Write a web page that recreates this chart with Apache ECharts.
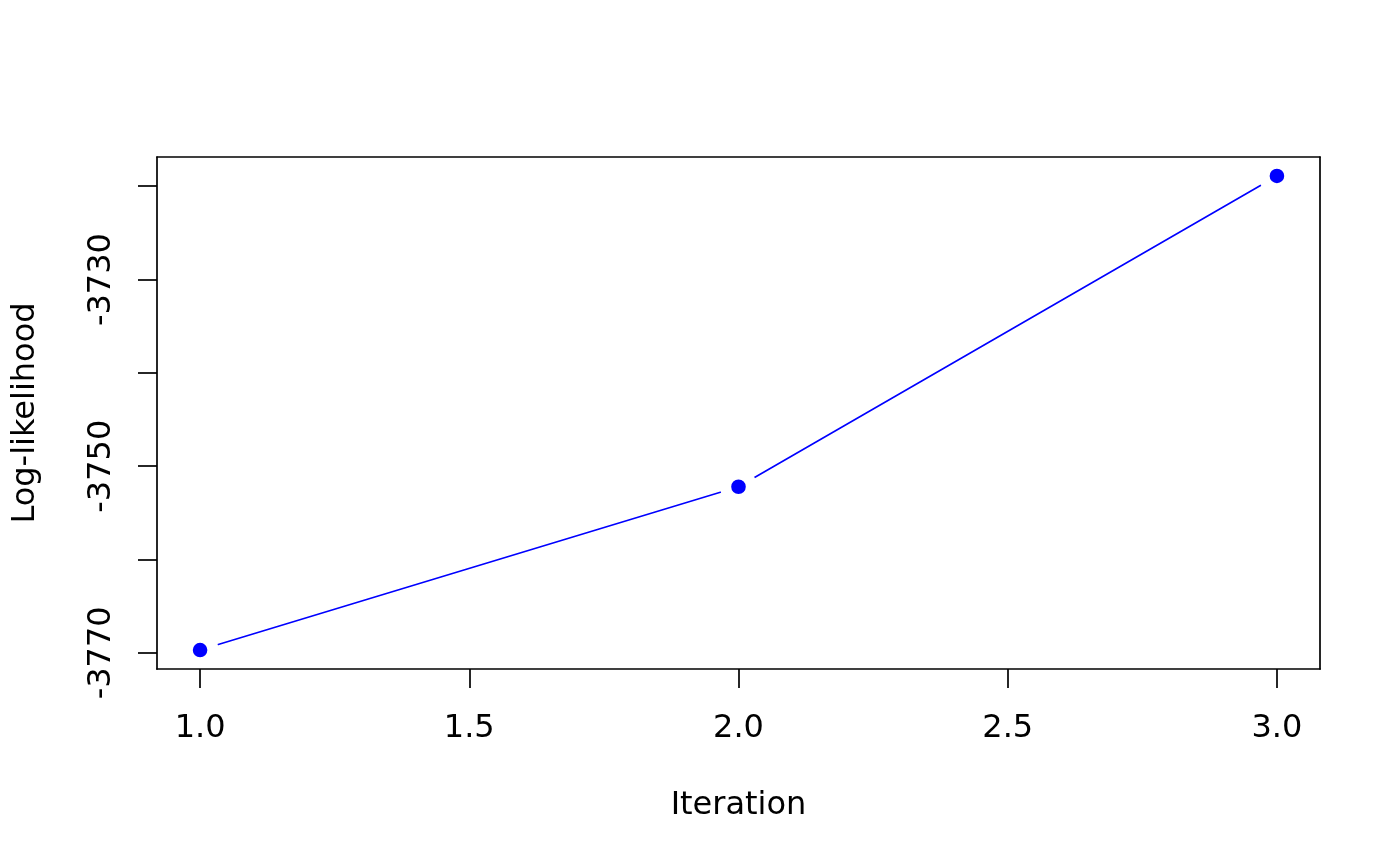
<!DOCTYPE html>
<html>
<head>
<meta charset="utf-8">
<script src="https://cdn.jsdelivr.net/npm/echarts@6/dist/echarts.min.js"></script>
<style>html,body{margin:0;padding:0;background:#fff}#c{width:1400px;height:866px}</style>
</head>
<body>
<div id="c"></div>
<script>
const iterations = [1, 2, 3];
const loglik = [-3769.7, -3752.2, -3718.9];
const xTicks = [1, 1.5, 2, 2.5, 3];
const yTicks = [-3770, -3760, -3750, -3740, -3730, -3720];
const yLabels = [-3770, -3750, -3730];
const xName = 'Iteration';
const yName = 'Log-likelihood';

// R-style 4% axis expansion
function rRange(vals) {
  const lo = Math.min(...vals), hi = Math.max(...vals), d = (hi - lo) * 0.04;
  return [lo - d, hi + d];
}
const xr = rRange(iterations), yr = rRange(loglik);

const FONT = 'DejaVu Sans';
const FS = 32;
const BLACK = '#000';
const LW = 1.7;

const chart = echarts.init(document.getElementById('c'), null, {renderer: 'canvas'});
chart.setOption({
  animation: false,
  backgroundColor: '#fff',
  grid: {left: 157, right: 80, top: 157, bottom: 197, containLabel: false, outerBoundsMode: 'none'},
  xAxis: [{
    type: 'value', position: 'bottom', min: xr[0], max: xr[1], z: 5,
    axisLine: {show: true, lineStyle: {color: BLACK, width: LW}},
    axisTick: {show: true, inside: false, length: 19, customValues: xTicks, lineStyle: {color: BLACK, width: LW}},
    axisLabel: {show: true, customValues: xTicks, margin: 44, color: BLACK, fontFamily: FONT, fontSize: FS,
      formatter: v => Number(v).toFixed(1)},
    splitLine: {show: false},
    name: xName, nameLocation: 'middle', nameGap: 121,
    nameTextStyle: {color: BLACK, fontFamily: FONT, fontSize: FS}
  }, {
    type: 'value', position: 'top', min: xr[0], max: xr[1], z: 5,
    axisLine: {show: true, lineStyle: {color: BLACK, width: LW}},
    axisTick: {show: false}, axisLabel: {show: false}, splitLine: {show: false}
  }],
  yAxis: [{
    type: 'value', position: 'left', min: yr[0], max: yr[1], z: 5,
    axisLine: {show: true, lineStyle: {color: BLACK, width: LW}},
    axisTick: {show: true, inside: false, length: 19, customValues: yTicks, lineStyle: {color: BLACK, width: LW}},
    axisLabel: {show: true, customValues: yLabels, rotate: 90, margin: 39, color: BLACK, fontFamily: FONT, fontSize: FS,
      formatter: v => String(Math.round(v))},
    splitLine: {show: false},
    name: yName, nameLocation: 'middle', nameGap: 115.5, nameRotate: 90,
    nameTextStyle: {color: BLACK, fontFamily: FONT, fontSize: FS}
  }, {
    type: 'value', position: 'right', min: yr[0], max: yr[1], z: 5,
    axisLine: {show: true, lineStyle: {color: BLACK, width: LW}},
    axisTick: {show: false}, axisLabel: {show: false}, splitLine: {show: false}
  }],
  series: [{
    type: 'line',
    xAxisIndex: 0, yAxisIndex: 0,
    data: iterations.map((x, i) => [x, loglik[i]]),
    symbol: 'circle',
    symbolSize: 25.8,
    showAllSymbol: true,
    lineStyle: {color: '#0000ff', width: 1.6},
    itemStyle: {color: '#0000ff', borderColor: '#fff', borderWidth: 11.2},
    emphasis: {disabled: true},
    silent: true
  }]
});
</script>
</body>
</html>
